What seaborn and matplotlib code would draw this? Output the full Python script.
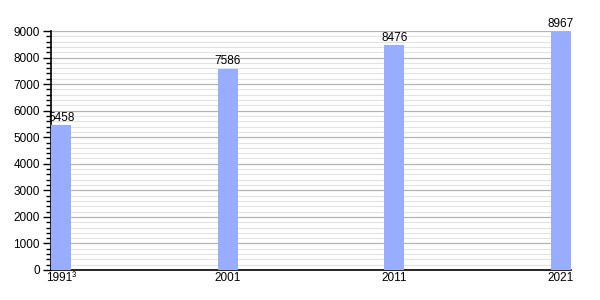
import matplotlib
matplotlib.use("Agg")
import matplotlib.pyplot as plt
import seaborn as sns
import pandas as pd
from matplotlib.ticker import MultipleLocator

years = ["1991³", "2001", "2011", "2021"]
population = [5458, 7586, 8476, 8967]

sns.set_theme(style="white")
plt.rcParams['font.family'] = ['Liberation Sans', 'DejaVu Sans']

df = pd.DataFrame({"year": years, "pop": population})

fig = plt.figure(figsize=(6, 3), dpi=100)
ax = fig.add_axes([51/600, 0.1, 520/600, 239/300])
w = 0.123
sns.barplot(data=df, x="year", y="pop", color="#99adff", saturation=1, width=w,
            ax=ax, zorder=3, edgecolor="none", linewidth=0)
ax.set_xlim(-w/2, 3 + w/2)
ax.set_ylim(0, 9000)
ax.yaxis.set_major_locator(MultipleLocator(1000))
ax.yaxis.set_minor_locator(MultipleLocator(200))
ax.grid(which="major", axis="y", color="#b4b4b4", linewidth=0.9, zorder=0)
ax.grid(which="minor", axis="y", color="#e2e2e2", linewidth=0.8, zorder=0)
ax.set_axisbelow(True)
for s in ["top", "right"]:
    ax.spines[s].set_visible(False)
for s in ["left", "bottom"]:
    ax.spines[s].set_color("black")
    ax.spines[s].set_linewidth(1.2)
ax.tick_params(axis="y", which="major", left=True, length=6, width=1, color="black", labelsize=8.5, pad=2, labelcolor="black")
ax.tick_params(axis="y", which="minor", left=True, length=3.5, width=1, color="black")
ax.tick_params(axis="x", bottom=False, length=0, labelsize=8.5, pad=1.5, labelcolor="black")
ax.set_xlabel("")
ax.set_ylabel("")
for c in ax.containers:
    ax.bar_label(c, labels=[str(v) for v in population], fontsize=8.5, padding=1, color="black")
fig.savefig("out.png", dpi=100)
